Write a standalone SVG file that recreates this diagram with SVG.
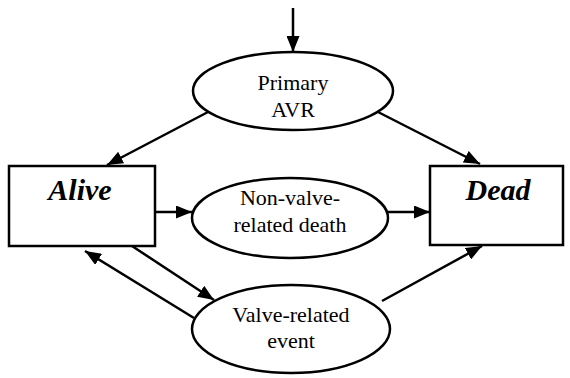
<svg xmlns="http://www.w3.org/2000/svg" width="570" height="378" viewBox="0 0 570 378">
<style>
.box{fill:#fff;stroke:#000;stroke-width:2.5}
.ell{fill:#fff;stroke:#000;stroke-width:2.5}
.big{font-family:"Liberation Serif",serif;font-weight:bold;font-style:italic;font-size:30px;text-anchor:middle;fill:#000}
.lbl{font-family:"Liberation Serif",serif;font-size:22px;text-anchor:middle;fill:#000}
.edge{stroke:#000;stroke-width:2.5;fill:none;marker-end:url(#ah)}
</style>
<defs>
<marker id="ah" viewBox="0 0 16 13" refX="16" refY="6.5" markerWidth="16" markerHeight="13" markerUnits="userSpaceOnUse" orient="auto">
<path d="M0,0 L16,6.5 L0,13 Z" fill="#000"/>
</marker>
</defs>
<rect width="570" height="378" fill="#fff"/>
<g id="connectors">
<line class="edge" x1="293" y1="8" x2="293" y2="52"/>
<line class="edge" x1="208" y1="112" x2="107" y2="165"/>
<line class="edge" x1="378" y1="112" x2="480" y2="164"/>
<line class="edge" x1="155" y1="212" x2="192" y2="212"/>
<line class="edge" x1="388" y1="212" x2="430" y2="212"/>
<line class="edge" x1="132" y1="246" x2="214" y2="300"/>
<line class="edge" x1="194" y1="318" x2="85" y2="251"/>
<line class="edge" x1="382" y1="301" x2="482" y2="246"/>
</g>
<g id="primary">
<ellipse class="ell" cx="293" cy="91" rx="100" ry="39"/>
<text class="lbl" x="293" y="90">Primary</text>
<text class="lbl" x="293" y="117">AVR</text>
</g>
<g id="alive">
<rect class="box" x="9" y="166" width="146" height="80"/>
<text class="big" x="80" y="200">Alive</text>
</g>
<g id="nonvalve">
<ellipse class="ell" cx="290" cy="218" rx="98" ry="40"/>
<text class="lbl" x="290" y="205">Non-valve-</text>
<text class="lbl" x="290" y="232">related death</text>
</g>
<g id="dead">
<rect class="box" x="430" y="166" width="133" height="79"/>
<text class="big" x="498" y="200">Dead</text>
</g>
<g id="valve">
<ellipse class="ell" cx="291" cy="329" rx="99" ry="44"/>
<text class="lbl" x="291" y="322">Valve-related</text>
<text class="lbl" x="291" y="348">event</text>
</g>
</svg>
